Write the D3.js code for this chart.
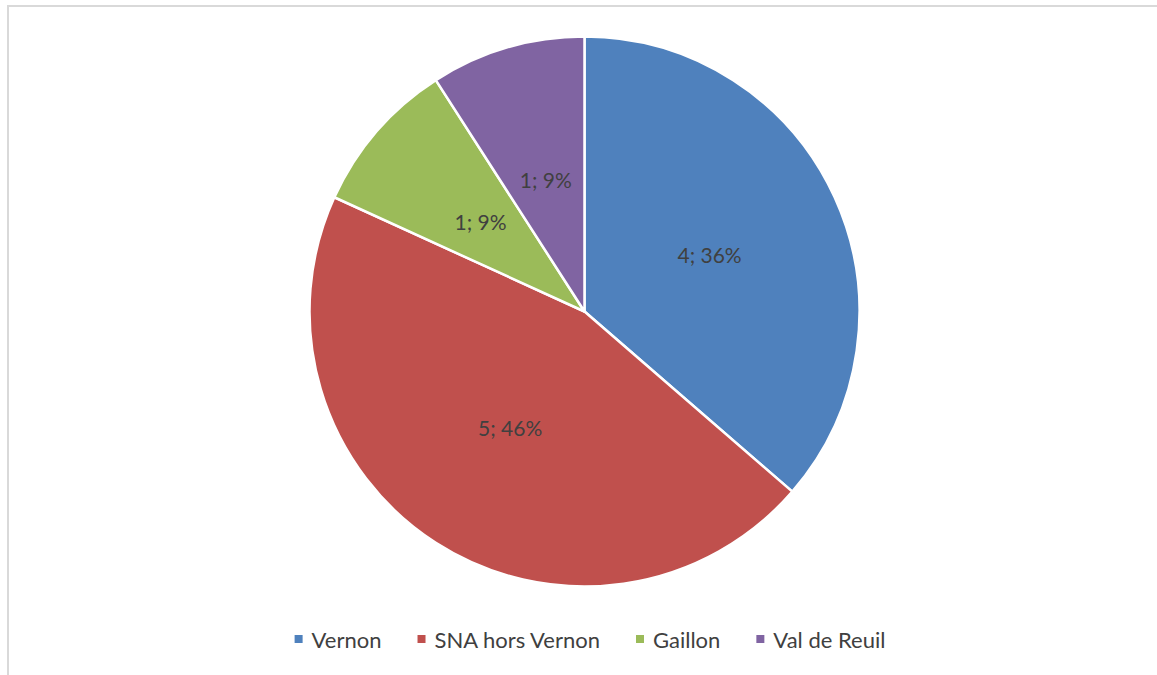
<!DOCTYPE html>
<html><head><meta charset="utf-8">
<script src="https://cdn.jsdelivr.net/npm/d3@7"></script>
<style>html,body{margin:0;padding:0;background:#fff;}svg{display:block;}</style>
</head><body>
<svg id="chart" width="1157" height="675"></svg>
<script>
const categories = ["Vernon", "SNA hors Vernon", "Gaillon", "Val de Reuil"];
const values = [4, 5, 1, 1];
const percentLabels = ["36%", "46%", "9%", "9%"];
const colors = ["#4f81bd", "#c0504d", "#9bbb59", "#8064a2"];

const W = 1157, H = 675;
const svg = d3.select("#chart");
const font = "Lato, 'Open Sans', sans-serif";

// chart frame (partially visible)
svg.append("line").attr("x1", 8).attr("x2", W).attr("y1", 6).attr("y2", 6)
  .attr("stroke", "#d9d9d9").attr("stroke-width", 2);
svg.append("line").attr("x1", 8).attr("x2", 8).attr("y1", 5).attr("y2", H)
  .attr("stroke", "#d9d9d9").attr("stroke-width", 2);

const cx = 584.5, cy = 311.5, R = 275;
const pie = d3.pie().sort(null).value(d => d);
const arcs = pie(values);
const arc = d3.arc().innerRadius(0).outerRadius(R);
const labelArc = d3.arc().innerRadius(R * 0.5).outerRadius(R * 0.5);

const g = svg.append("g").attr("transform", `translate(${cx},${cy})`);
g.selectAll("path").data(arcs).join("path")
  .attr("d", arc)
  .attr("fill", (d, i) => colors[i])
  .attr("stroke", "#fff").attr("stroke-width", 2.5).attr("stroke-linejoin", "round");

g.selectAll("text").data(arcs).join("text")
  .attr("transform", d => `translate(${labelArc.centroid(d)})`)
  .attr("text-anchor", "middle").attr("dominant-baseline", "central")
  .attr("font-family", font).attr("font-size", 21).attr("fill", "#404040")
  .text((d, i) => `${values[i]}; ${percentLabels[i]}`);

// legend
const legend = svg.append("g");
const items = legend.selectAll("g").data(categories).join("g");
items.append("rect").attr("width", 8).attr("height", 8).attr("y", -4)
  .attr("fill", (d, i) => colors[i]);
items.append("text").attr("x", 17).attr("dominant-baseline", "central")
  .attr("font-family", font).attr("font-size", 22).attr("fill", "#404040")
  .text(d => d);
let x = 0;
const gap = 36;
items.each(function() {
  const w = d3.select(this).select("text").node().getComputedTextLength();
  d3.select(this).attr("transform", `translate(${x},0)`);
  x += 17 + w + gap;
});
const total = x - gap;
legend.attr("transform", `translate(${590 - total / 2},${639})`);
</script>
</body></html>
